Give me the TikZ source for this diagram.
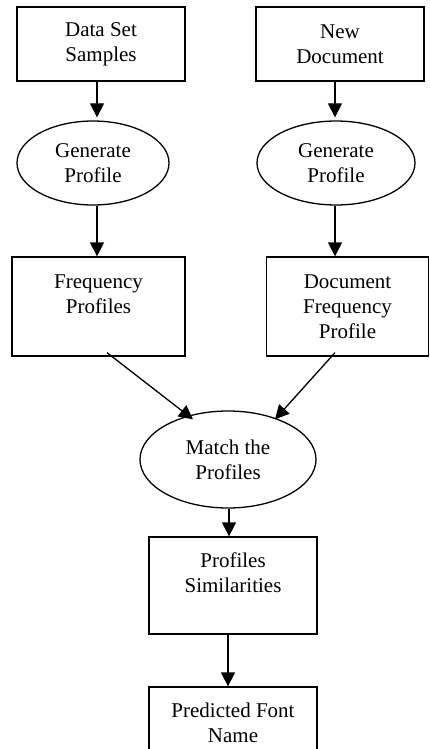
\documentclass[tikz,border=0pt]{standalone}
\usepackage{fontspec}
\setmainfont{Liberation Serif}
\usetikzlibrary{arrows.meta,shapes.geometric}
\begin{document}
\begin{tikzpicture}[x=1pt,y=-1pt,
  every node/.style={font=\fontsize{21}{25}\selectfont, align=center, inner sep=0pt, line width=1.3pt},
  box/.style={draw, rectangle},
  oval/.style={draw, ellipse},
  arr/.style={line width=1.3pt, -{Triangle[width=14pt,length=14pt]}}]
\useasboundingbox (0,0) rectangle (430,749);
\clip (0,0) rectangle (430,749);
\node[box, minimum width=168pt, minimum height=74pt] (ds) at (101,44) {Data Set\\Samples};
\node[box, minimum width=168pt, minimum height=74pt] (nd) at (340,44) {New\\Document};
\node[oval, minimum width=152pt, minimum height=84pt] (gp1) at (93,163) {Generate\\Profile};
\node[oval, minimum width=158pt, minimum height=84pt] (gp2) at (336,163) {Generate\\Profile};
\node[box, minimum width=173pt, minimum height=99pt] (fp) at (98.5,306.5) {Frequency\\Profiles\\~};
\node[box, minimum width=162pt, minimum height=99pt] (dfp) at (347.5,306.5) {Document\\Frequency\\Profile};
\node[oval, minimum width=176pt, minimum height=97pt] (mp) at (228,459.5) {Match the\\Profiles};
\node[box, minimum width=168pt, minimum height=97pt] (ps) at (233,585.5) {Profiles\\Similarities\\~};
\node[box, minimum width=168pt, minimum height=97pt] (pf) at (233,735.5) {Predicted Font\\Name\\~};
\draw[arr] ([xshift=-4pt]ds.south) -- ([xshift=4pt,yshift=3pt]gp1.north);
\draw[arr] ([xshift=4pt]gp1.south) -- ([xshift=-1.5pt]fp.north);
\draw[arr] ([xshift=-5pt]nd.south) -- ([xshift=-1pt,yshift=3pt]gp2.north);
\draw[arr] ([xshift=-1pt]gp2.south) -- ([xshift=-12.5pt]dfp.north);
\draw[arr] ([xshift=8.5pt,yshift=4pt]fp.south) -- ([xshift=-35pt,yshift=-9pt]mp.north);
\draw[arr] ([xshift=-12.5pt,yshift=4pt]dfp.south) -- ([xshift=47pt,yshift=-9pt]mp.north);
\draw[arr] ([xshift=1pt]mp.south) -- ([xshift=-4pt]ps.north);
\draw[arr] ([xshift=-5pt]ps.south) -- ([xshift=-5pt]pf.north);
\end{tikzpicture}
\end{document}
